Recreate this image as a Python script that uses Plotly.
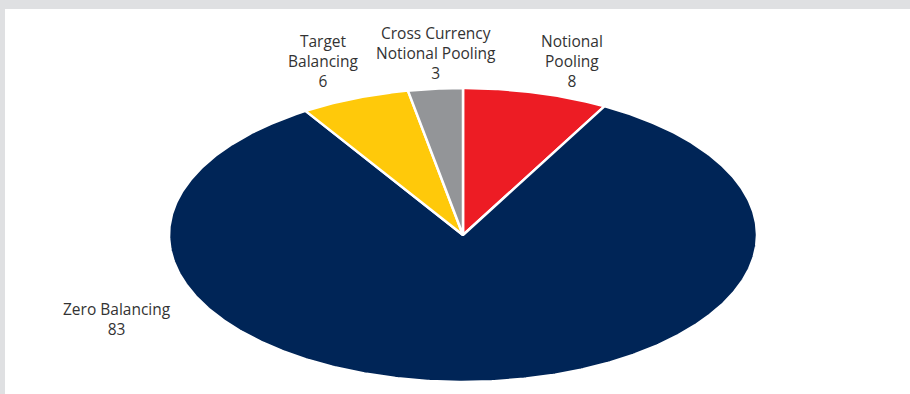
import numpy as np
import plotly.graph_objects as go

categories = ["Notional Pooling", "Zero Balancing", "Target Balancing", "Cross Currency Notional Pooling"]
values = [8, 83, 6, 3]
label_text = ["Notional<br>Pooling<br>8", "Zero Balancing<br>83", "Target<br>Balancing<br>6", "Cross Currency<br>Notional Pooling<br>3"]
colors = ["#ed1c24", "#002557", "#ffc90a", "#939598"]

W, H = 910, 394
ML, MT = 5, 9
cx, cy, rx, ry = 463, 235, 294, 147

fig = go.Figure()
total = sum(values)
start = 0.0
for cat, v, col in zip(categories, values, colors):
    a0 = start / total * 2 * np.pi
    a1 = (start + v) / total * 2 * np.pi
    t = np.linspace(a0, a1, max(int(v * 8), 20))
    xs = np.concatenate([[cx], cx + rx * np.sin(t), [cx]])
    ys = np.concatenate([[cy], cy - ry * np.cos(t), [cy]])
    fig.add_trace(go.Scatter(x=xs, y=ys, fill="toself", fillcolor=col, mode="lines",
                             line=dict(color="white", width=2.5), name=cat,
                             hoverinfo="name", showlegend=False))
    start += v

label_pos = [(572, 61), (117, 319), (323, 61), (436, 53)]
for txt, (lx, ly) in zip(label_text, label_pos):
    fig.add_annotation(x=lx, y=ly, xref="x", yref="y", text=txt, showarrow=False,
                       font=dict(family="Open Sans, Noto Sans, sans-serif", size=15.5, color="#333333"),
                       align="center", xanchor="center", yanchor="middle")

fig.update_layout(
    width=W, height=H,
    margin=dict(l=ML, t=MT, r=0, b=0),
    paper_bgcolor="#dfe0e2", plot_bgcolor="white",
    xaxis=dict(range=[ML, W], visible=False, fixedrange=True),
    yaxis=dict(range=[H, MT], visible=False, fixedrange=True),
)
fig.write_html("out.html")
